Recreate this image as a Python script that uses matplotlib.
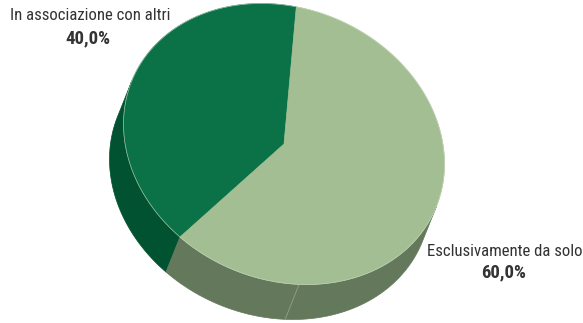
import numpy as np
import matplotlib.pyplot as plt
from matplotlib import font_manager
from matplotlib.patches import Polygon

# data
labels = ["In associazione con altri", "Esclusivamente da solo"]
values = [40.0, 60.0]
top_colors = ["#0B7248", "#A2BE92"]
side_colors = ["#005230", "#64785C"]

# tilted ellipse geometry (pixel space, y down)
center = np.array([284.0, 144.0])
u = np.array([160.5, 19.9])
v = np.array([0.0, 139.1])
depth = np.array([-14.0, 35.0])
start_deg = 130.4


def pt(t):
    t = np.asarray(t)
    return center + np.outer(np.cos(t), u) + np.outer(np.sin(t), v)


# direction of extrusion in unit-circle space -> visible arc of the side
a, b = np.linalg.solve(np.column_stack([u, v]), depth)
face_dir = np.arctan2(b, a)

names = {f.name for f in font_manager.fontManager.ttflist}
family = "DejaVu Sans"
for cand in ["Liberation Sans Narrow", "Roboto Condensed", "Open Sans Condensed",
             "Noto Sans Condensed", "Liberation Sans"]:
    if cand in names:
        family = cand
        break

fig = plt.figure(figsize=(5.83, 3.23), dpi=100)
ax = fig.add_axes([0, 0, 1, 1])
ax.set_xlim(0, 583)
ax.set_ylim(323, 0)
ax.axis("off")

fracs = np.array(values) / sum(values)
bounds = np.deg2rad(start_deg) + 2 * np.pi * np.concatenate([[0], np.cumsum(fracs)])

# side walls
for i in range(len(values)):
    ts = np.linspace(bounds[i], bounds[i + 1], 400)
    vis = np.cos(ts - face_dir) >= 0
    idx = np.where(vis)[0]
    if len(idx) < 2:
        continue
    runs = np.split(idx, np.where(np.diff(idx) > 1)[0] + 1)
    for r in runs:
        top = pt(ts[r])
        poly = np.vstack([top, (top + depth)[::-1]])
        ax.add_patch(Polygon(poly, closed=True, facecolor=side_colors[i],
                             edgecolor=side_colors[i], linewidth=0.5))

# faint seam on the front wall
seam = pt([np.deg2rad(84.6)])[0]
ax.plot([seam[0], seam[0] + depth[0]], [seam[1], seam[1] + depth[1]],
        color="#93A388", linewidth=0.6)

# top faces
for i in range(len(values)):
    ts = np.linspace(bounds[i], bounds[i + 1], 400)
    poly = np.vstack([center, pt(ts)])
    ax.add_patch(Polygon(poly, closed=True, facecolor=top_colors[i],
                         edgecolor=top_colors[i], linewidth=0.5))

# thin highlight along the rim
rim = pt(np.linspace(0, 2 * np.pi, 600))
ax.plot(rim[:, 0], rim[:, 1], color="#C8D8C0", linewidth=0.5, alpha=0.8)

# labels: size chosen so the long label spans ~160 px like the reference
probe = ax.text(0, 0, labels[0], fontsize=10, family=family)
fig.canvas.draw()
w = probe.get_window_extent().width
probe.remove()
fs = min(12.5, 10 * 160.0 / w)

pct = [f"{val:.1f}%".replace(".", ",") for val in values]
ax.text(90, 16, labels[0], ha="center", va="center", fontsize=fs,
        color="#333333", family=family)
ax.text(88, 38, pct[0], ha="center", va="center",
        fontsize=fs * 1.12, fontweight="bold", color="#333333", family=family)
ax.text(505, 251, labels[1], ha="center", va="center", fontsize=fs,
        color="#333333", family=family)
ax.text(504, 272, pct[1], ha="center", va="center",
        fontsize=fs * 1.12, fontweight="bold", color="#333333", family=family)

fig.savefig("out.png", dpi=100)
